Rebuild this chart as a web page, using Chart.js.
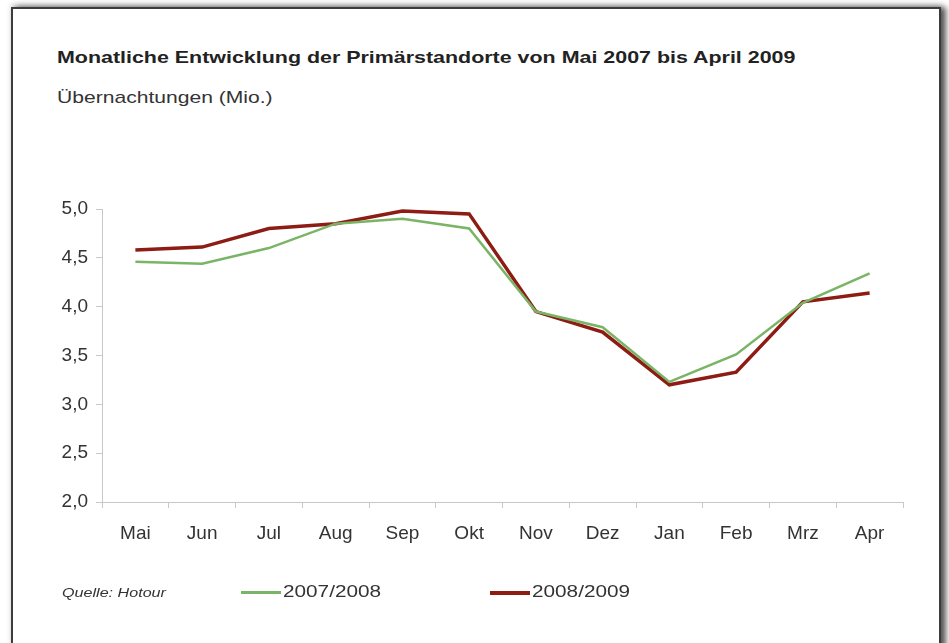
<!DOCTYPE html>
<html>
<head>
<meta charset="utf-8">
<script src="https://cdn.jsdelivr.net/npm/chart.js@4"></script>
<style>
  html, body { margin: 0; padding: 0; background: #fff; }
  body { width: 949px; height: 643px; position: relative; overflow: hidden; font-family: "Liberation Sans", Arial, sans-serif; }
  #card {
    position: absolute; left: 11px; top: 7px; width: 926px; height: 700px;
    border: 2px solid #3c3c3c; background: #fff;
    box-shadow: 5px 0 6px rgba(0,0,0,0.65), 0 -3px 5px rgba(0,0,0,0.15);
  }
  .wide { transform-origin: 0 50%; }
  #title { position: absolute; left: 57px; top: 48px; font-size: 17px; font-weight: bold; color: #222; white-space: nowrap; transform: scaleX(1.26); }
  #subtitle { position: absolute; left: 57px; top: 88px; font-size: 17px; color: #333; white-space: nowrap; transform: scaleX(1.24); }
  #chart { position: absolute; left: 0; top: 0; }
  #source { position: absolute; left: 62px; top: 585px; font-size: 13px; font-style: italic; color: #333; transform: scaleX(1.24); }
  .leg { position: absolute; top: 582px; font-size: 17px; color: #333; white-space: nowrap; }
  .leg span { display: inline-block; width: 40px; vertical-align: middle; margin-right: 2px; }
  .leg b { font-weight: normal; display: inline-block; transform: scaleX(1.22); transform-origin: 0 50%; }
</style>
</head>
<body>
<div id="card"></div>
<div id="title" class="wide">Monatliche Entwicklung der Primärstandorte von Mai 2007 bis April 2009</div>
<div id="subtitle" class="wide">Übernachtungen (Mio.)</div>
<canvas id="chart" width="949" height="643"></canvas>
<div id="source" class="wide">Quelle: Hotour</div>
<div class="leg" style="left:241px"><span style="height:3px;background:#7ab466"></span><b>2007/2008</b></div>
<div class="leg" style="left:490px"><span style="height:4px;background:#8c1c14"></span><b>2008/2009</b></div>
<script>
// Monate (Mai bis April)
const months = ['Mai', 'Jun', 'Jul', 'Aug', 'Sep', 'Okt', 'Nov', 'Dez', 'Jan', 'Feb', 'Mrz', 'Apr'];

// Übernachtungen in Mio.
const season0708 = [4.46, 4.44, 4.60, 4.85, 4.90, 4.80, 3.95, 3.79, 3.23, 3.51, 4.04, 4.34];
const season0809 = [4.58, 4.61, 4.80, 4.85, 4.98, 4.95, 3.95, 3.74, 3.20, 3.33, 4.05, 4.14];

const yMin = 2.0;
const yMax = 5.0;
const yStep = 0.5;

const axisColor = '#c8c8c8';
const labelColor = '#333';

const ctx = document.getElementById('chart').getContext('2d');

new Chart(ctx, {
    type: 'line',
    data: {
        labels: months,
        datasets: [{
            label: '2007/2008',
            data: season0708,
            borderColor: '#7ab466',
            borderWidth: 2.5,
            pointRadius: 0,
            tension: 0
        }, {
            label: '2008/2009',
            data: season0809,
            borderColor: '#8c1c14',
            borderWidth: 3.5,
            pointRadius: 0,
            tension: 0
        }]
    },
    options: {
        responsive: false,
        animation: false,
        layout: {
            padding: { left: 42, right: 46, top: 209, bottom: 96 }
        },
        plugins: {
            legend: { display: false },
            tooltip: { enabled: false }
        },
        scales: {
            x: {
                offset: true,
                afterFit: scale => { scale.height = 45; },
                border: { color: axisColor, width: 1 },
                grid: { offset: true, drawOnChartArea: false, color: axisColor, tickLength: 6 },
                ticks: { color: labelColor, font: { family: 'Liberation Sans', size: 19 }, padding: 14, maxRotation: 0 }
            },
            y: {
                min: yMin,
                max: yMax,
                afterFit: scale => { scale.width = 60; },
                border: { color: axisColor, width: 1 },
                grid: { drawOnChartArea: false, color: axisColor, tickLength: 6 },
                ticks: {
                    stepSize: yStep,
                    color: labelColor,
                    font: { family: 'Liberation Sans', size: 19 },
                    padding: 8,
                    callback: v => v.toFixed(1).replace('.', ',')
                }
            }
        }
    }
});
</script>
</body>
</html>
